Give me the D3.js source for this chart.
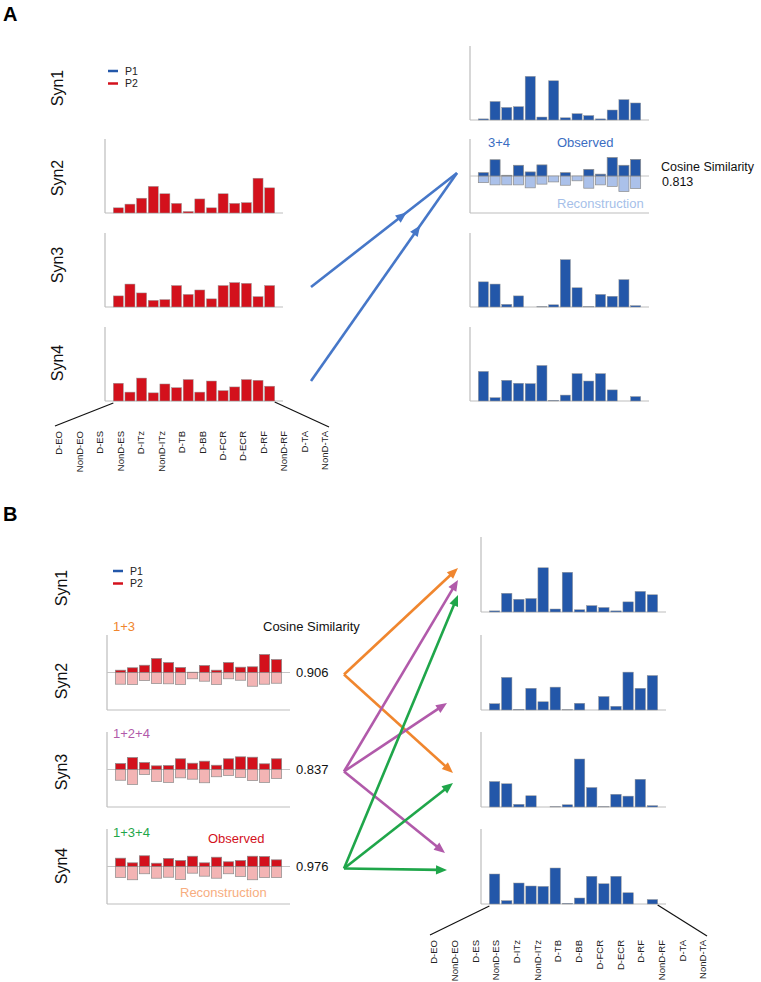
<!DOCTYPE html>
<html lang="en">
<head>
<meta charset="utf-8">
<title>Synergy reconstruction</title>
<script src="https://cdnjs.cloudflare.com/ajax/libs/d3/7.8.5/d3.min.js"></script>
<style>
	body { margin: 0; background: #fff; }
	svg { display: block; font-family: Arial, "Liberation Sans", sans-serif; }
</style>
</head>
<body>
<script>

var w = 761;
var h = 982;

var muscles = ["D-EO", "NonD-EO", "D-ES", "NonD-ES", "D-ITz", "NonD-ITz", "D-TB",
               "D-BB", "D-FCR", "D-ECR", "D-RF", "NonD-RF", "D-TA", "NonD-TA"];

// P2 synergies (panel A, left)
var p2Syn2 = [0.07, 0.12, 0.20, 0.36, 0.26, 0.13, 0.02, 0.19, 0.07, 0.26, 0.13, 0.14, 0.47, 0.34];
var p2Syn3 = [0.15, 0.31, 0.19, 0.09, 0.10, 0.29, 0.17, 0.23, 0.11, 0.29, 0.33, 0.32, 0.14, 0.29];
var p2Syn4 = [0.24, 0.12, 0.31, 0.11, 0.23, 0.18, 0.29, 0.12, 0.27, 0.14, 0.19, 0.29, 0.28, 0.20];

// P1 synergies (right columns)
var p1Syn1 = [0.015, 0.25, 0.17, 0.18, 0.59, 0.04, 0.53, 0.03, 0.085, 0.06, 0.015, 0.135, 0.275, 0.23];
var p1Syn2 = [0.084, 0.435, 0.009, 0.29, 0.11, 0.305, 0.004, 0.09, 0, 0.18, 0.05, 0.505, 0.29, 0.46];
var p1Syn3 = [0.34, 0.31, 0.036, 0.15, 0, 0.005, 0.03, 0.64, 0.26, 0.005, 0.17, 0.145, 0.37, 0.018];
var p1Syn4 = [0.40, 0.045, 0.28, 0.24, 0.235, 0.48, 0.01, 0.08, 0.37, 0.27, 0.37, 0.15, 0, 0.06];

// panel A: P1 Syn2 observed vs reconstruction from P2 Syn3+Syn4
var obsA2 = [0.045, 0.22, 0.01, 0.145, 0.055, 0.15, 0, 0.045, 0, 0.09, 0.025, 0.25, 0.145, 0.225];
var recA2 = [0.09, 0.12, 0.12, 0.12, 0.16, 0.11, 0.08, 0.125, 0.065, 0.165, 0.12, 0.14, 0.21, 0.17];
var comboA = "3+4";
var cosA = 0.813;

// panel B: P2 Syn2..4 observed vs reconstruction from P1 synergies
var obsB2 = [0.031, 0.063, 0.097, 0.187, 0.133, 0.067, 0.004, 0.093, 0.031, 0.133, 0.071, 0.076, 0.24, 0.173];
var recB2 = [0.156, 0.16, 0.107, 0.147, 0.151, 0.16, 0.084, 0.116, 0.16, 0.084, 0.103, 0.183, 0.156, 0.143];
var obsB3 = [0.08, 0.16, 0.093, 0.049, 0.053, 0.143, 0.084, 0.111, 0.057, 0.143, 0.169, 0.164, 0.076, 0.143];
var recB3 = [0.143, 0.2, 0.067, 0.16, 0.173, 0.111, 0.129, 0.177, 0.097, 0.08, 0.107, 0.147, 0.173, 0.12];
var obsB4 = [0.111, 0.049, 0.143, 0.044, 0.107, 0.08, 0.137, 0.049, 0.124, 0.063, 0.08, 0.137, 0.133, 0.089];
var recB4 = [0.147, 0.177, 0.097, 0.156, 0.143, 0.173, 0.089, 0.129, 0.156, 0.097, 0.133, 0.177, 0.147, 0.147];
var combosB = ["1+3", "1+2+4", "1+3+4"];
var cosB = [0.906, 0.837, 0.976];

var synNames = ["Syn1", "Syn2", "Syn3", "Syn4"];

//Colours
var red = "#d3111c", blue = "#2357a9", lightBlue = "#abc1ea", pink = "#f3b4b4";
var comboColors = ["#f0862e", "#b15aaa", "#1fa64a"];

//Layout
var A = { lx: 105, lEnd: 283, rx: 470, rEnd: 649, tops: [46, 139, 233, 327], ht: 74,
          synX: 57, synY: [88, 178, 265, 363], labels: [59, 325], labelTop: 431 };
var B = { lx: 107, lEnd: 290, rx: 481, rEnd: 666, tops: [537, 635, 732, 829], ht: 75,
          synX: 61, synY: [588, 681, 772, 866], labels: [434, 703], labelTop: 940 };

var svg = d3.select("body")
			.append("svg")
			.attr("width", w)
			.attr("height", h);

var fmt = d3.format(".3f");

function xBand(axisX, endX) {
	return d3.scaleBand()
			.domain(d3.range(muscles.length))
			.range([axisX + 7.5, endX - 7.5])
			.paddingInner(0.14)
			.paddingOuter(0.07);
}

function frame(g, axisX, endX, top, bottom) {
	g.append("line")
	 .attr("x1", axisX).attr("x2", axisX)
	 .attr("y1", top).attr("y2", bottom)
	 .attr("stroke", "#bdbdbd").attr("stroke-width", 1.2);
	g.append("line")
	 .attr("x1", axisX).attr("x2", endX)
	 .attr("y1", bottom).attr("y2", bottom)
	 .attr("stroke", "#bdbdbd").attr("stroke-width", 1.2);
}

function barChart(axisX, endX, top, ht, values, fill) {
	var x = xBand(axisX, endX);
	var y = d3.scaleLinear().domain([0, 1]).range([top + ht, top]);
	var g = svg.append("g");
	frame(g, axisX, endX, top, top + ht);
	g.selectAll("rect")
	 .data(values)
	 .enter()
	 .append("rect")
	 .attr("x", (d, i) => x(i))
	 .attr("y", d => y(d))
	 .attr("width", x.bandwidth())
	 .attr("height", d => y(0) - y(d))
	 .attr("fill", fill)
	 .attr("stroke", "#9a9a9a")
	 .attr("stroke-width", 0.5);
	return { x: x, y: y };
}

function mirrorChart(axisX, endX, top, ht, obs, rec, obsFill, recFill) {
	var x = xBand(axisX, endX);
	var y = d3.scaleLinear().domain([-0.5, 0.5]).range([top + ht, top]);
	var g = svg.append("g");
	frame(g, axisX, endX, top, top + ht);
	g.append("line")
	 .attr("x1", axisX).attr("x2", endX)
	 .attr("y1", y(0)).attr("y2", y(0))
	 .attr("stroke", "#c4c4c4").attr("stroke-width", 1);
	g.selectAll("rect.rec")
	 .data(rec)
	 .enter()
	 .append("rect")
	 .attr("class", "rec")
	 .attr("x", (d, i) => x(i))
	 .attr("y", y(0))
	 .attr("width", x.bandwidth())
	 .attr("height", d => y(-d) - y(0))
	 .attr("fill", recFill)
	 .attr("stroke", "#8c8c8c")
	 .attr("stroke-width", 0.7);
	g.selectAll("rect.obs")
	 .data(obs)
	 .enter()
	 .append("rect")
	 .attr("class", "obs")
	 .attr("x", (d, i) => x(i))
	 .attr("y", d => y(d))
	 .attr("width", x.bandwidth())
	 .attr("height", d => y(0) - y(d))
	 .attr("fill", obsFill)
	 .attr("stroke", "#8c8c8c")
	 .attr("stroke-width", 0.7);
	return { x: x, y: y };
}

function text(x, y, str, size, color, opts) {
	opts = opts || {};
	return svg.append("text")
			.attr("x", x).attr("y", y)
			.attr("font-size", size)
			.attr("fill", color)
			.attr("font-weight", opts.bold ? "bold" : null)
			.attr("text-anchor", opts.anchor || "start")
			.text(str);
}

function synLabels(L) {
	synNames.forEach((s, i) => {
		svg.append("text")
		   .attr("transform", "translate(" + L.synX + "," + L.synY[i] + ") rotate(-90)")
		   .attr("text-anchor", "middle")
		   .attr("dy", "0.35em")
		   .attr("font-size", 16)
		   .attr("fill", "#111")
		   .text(s);
	});
}

function legend(x, y) {
	[["P1", blue], ["P2", red]].forEach((d, i) => {
		svg.append("line")
		   .attr("x1", x).attr("x2", x + 10)
		   .attr("y1", y + i * 12.5).attr("y2", y + i * 12.5)
		   .attr("stroke", d[1]).attr("stroke-width", 2.5);
		svg.append("text")
		   .attr("x", x + 17).attr("y", y + i * 12.5)
		   .attr("dy", "0.35em")
		   .attr("font-size", 10.5)
		   .attr("fill", "#222")
		   .text(d[0]);
	});
}

function muscleLabels(L, chart, baseline) {
	var lx = d3.scalePoint().domain(muscles).range(L.labels);
	svg.selectAll(null)
	   .data(muscles)
	   .enter()
	   .append("text")
	   .attr("transform", d => "translate(" + lx(d) + "," + L.labelTop + ") rotate(-90)")
	   .attr("text-anchor", "end")
	   .attr("dy", "0.35em")
	   .attr("font-size", 9.5)
	   .attr("fill", "#222")
	   .text(d => d);
	var last = muscles.length - 1;
	svg.append("line")
	   .attr("x1", chart.x(0)).attr("y1", baseline + 2)
	   .attr("x2", lx(muscles[0]) - 4).attr("y2", L.labelTop - 5)
	   .attr("stroke", "#111").attr("stroke-width", 1.2);
	svg.append("line")
	   .attr("x1", chart.x(last) + chart.x.bandwidth()).attr("y1", baseline + 1)
	   .attr("x2", lx(muscles[last]) + 4).attr("y2", L.labelTop - 4)
	   .attr("stroke", "#111").attr("stroke-width", 1.2);
}

function arrow(x1, y1, x2, y2, color, at) {
	var ang = Math.atan2(y2 - y1, x2 - x1);
	var c = Math.cos(ang), s = Math.sin(ang);
	var tx = x1 + (x2 - x1) * at, ty = y1 + (y2 - y1) * at;
	var len = 11, half = 4.6;
	var bx = tx - len * c, by = ty - len * s;
	var ex = at >= 1 ? bx + 3 * c : x2, ey = at >= 1 ? by + 3 * s : y2;
	svg.append("line")
	   .attr("x1", x1).attr("y1", y1).attr("x2", ex).attr("y2", ey)
	   .attr("stroke", color).attr("stroke-width", 2.6);
	svg.append("path")
	   .attr("d", d3.line()([[tx, ty], [bx - half * s, by + half * c], [bx + half * s, by - half * c]]) + "Z")
	   .attr("fill", color);
}

// ---------------- Panel A ----------------
text(3, 21, "A", 20, "#000", { bold: true });
synLabels(A);
legend(A.lx + 3, 71);

var leftA = [p2Syn2, p2Syn3, p2Syn4];
var chartA;
leftA.forEach((vals, i) => {
	chartA = barChart(A.lx, A.lEnd, A.tops[i + 1], A.ht, vals, red);
});

barChart(A.rx, A.rEnd, A.tops[0], A.ht, p1Syn1, blue);
var mirA = mirrorChart(A.rx, A.rEnd, A.tops[1], A.ht, obsA2, recA2, blue, lightBlue);
barChart(A.rx, A.rEnd, A.tops[2], A.ht, p1Syn3, blue);
barChart(A.rx, A.rEnd, A.tops[3], A.ht, p1Syn4, blue);

text(A.rx + 18, A.tops[1] + 8, comboA, 13, "#3b6dc2");
text(A.rx + 87, A.tops[1] + 8, "Observed", 13, "#3b6dc2");
text(A.rx + 87, A.tops[1] + 69, "Reconstruction", 13, "#a6bfe9");
text(A.rEnd + 12, A.tops[1] + 32, "Cosine Similarity", 12.5, "#111");
text(A.rEnd + 13, A.tops[1] + 47, fmt(cosA), 12.5, "#111");

// arrows from P2 Syn3 / Syn4 to reconstructed Syn2
var endAx = A.rx - 13, endAy = mirA.y(0) - 3;
comboA.split("+").map(Number).forEach(n => {
	var x1 = A.lEnd + 28, y1 = A.tops[n - 1] + A.ht - 20;
	var dist = Math.hypot(endAx - x1, endAy - y1);
	arrow(x1, y1, endAx, endAy, "#4677c8", 1 - 64 / dist);
});

muscleLabels(A, chartA, A.tops[3] + A.ht);

// ---------------- Panel B ----------------
text(3, 521, "B", 20, "#000", { bold: true });
synLabels(B);
legend(B.lx + 6, 571);

var obsB = [obsB2, obsB3, obsB4];
var recB = [recB2, recB3, recB4];
var mirB = [];
obsB.forEach((vals, i) => {
	mirB.push(mirrorChart(B.lx, B.lEnd, B.tops[i + 1], B.ht, vals, recB[i], red, pink));
});

var p1All = [p1Syn1, p1Syn2, p1Syn3, p1Syn4];
var chartB;
p1All.forEach((vals, i) => {
	chartB = barChart(B.rx, B.rEnd, B.tops[i], B.ht, vals, blue);
});

text(B.lx + 6, B.tops[1] - 4, combosB[0], 13, comboColors[0]);
text(B.lx + 6, B.tops[2] + 6, combosB[1], 13, comboColors[1]);
text(B.lx + 6, B.tops[3] + 8, combosB[2], 13, comboColors[2]);
text(B.lx + 156, B.tops[1] - 4, "Cosine Similarity", 13, "#111");
text(B.lx + 101, B.tops[3] + 14, "Observed", 13, red);
text(B.lx + 73, B.tops[3] + 68, "Reconstruction", 13, "#f7ad80");

cosB.forEach((v, i) => {
	svg.append("text")
	   .attr("x", B.lEnd + 6).attr("y", mirB[i].y(0))
	   .attr("dy", "0.35em")
	   .attr("font-size", 13)
	   .attr("fill", "#111")
	   .text(fmt(v));
});

// arrow end points: [x offset from right axis, y offset from target row top]
var arrowEnds = {
	"1-0": [-23, 31], "1-2": [-28, 41],
	"2-0": [-23, 43], "2-1": [-34, 68], "2-3": [-36, 24],
	"3-0": [-23, 58], "3-2": [-28, 51], "3-3": [-34, 41]
};

combosB.forEach((combo, i) => {
	var src = i + 1;
	var x1 = B.lEnd + 54, y1 = mirB[i].y(0) + 2;
	combo.split("+").map(Number).forEach(n => {
		var e = arrowEnds[src + "-" + (n - 1)];
		arrow(x1, y1, B.rx + e[0], B.tops[n - 1] + e[1], comboColors[i], 1);
	});
});

muscleLabels(B, chartB, B.tops[3] + B.ht);

</script>
</body>
</html>
